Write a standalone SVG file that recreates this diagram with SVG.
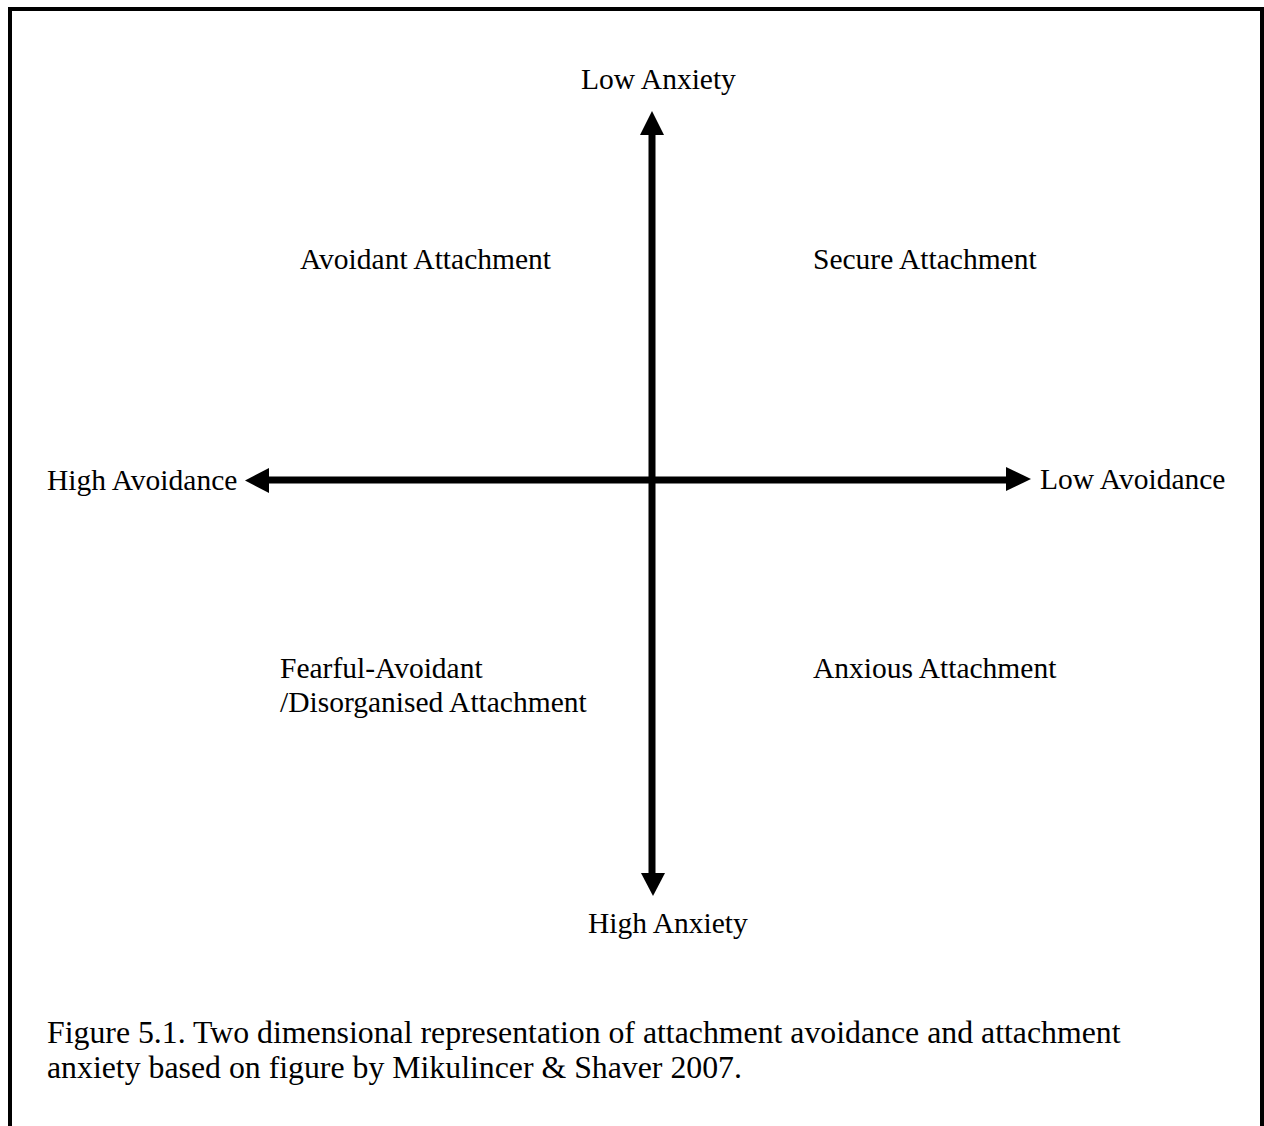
<svg xmlns="http://www.w3.org/2000/svg" width="1264" height="1126" viewBox="0 0 1264 1126">
<style>
text{font-family:"Liberation Serif","Times New Roman",serif;font-size:29.5px;fill:#000}
text.cap{font-size:31.8px}
.ax{stroke:#000;stroke-width:7;fill:none}
.hd{fill:#000}
</style>
<rect x="0" y="0" width="1264" height="1126" fill="#fff"/>
<path d="M10,1126 V9 H1262 V1126" fill="none" stroke="#000" stroke-width="4"/>
<g id="connectors">
<line class="ax" x1="652" y1="134" x2="652" y2="874"/>
<line class="ax" x1="268" y1="480" x2="1007" y2="480"/>
<polygon class="hd" points="652,111 640,135 664,135"/>
<polygon class="hd" points="653,896 641,873 665,873"/>
<polygon class="hd" points="245,480.5 269,468 269,493"/>
<polygon class="hd" points="1031,479 1006,467 1006,491"/>
</g>
<g id="low-anxiety"><text x="581" y="89">Low Anxiety</text></g>
<g id="high-anxiety"><text x="588" y="933">High Anxiety</text></g>
<g id="high-avoidance"><text x="47" y="490">High Avoidance</text></g>
<g id="low-avoidance"><text x="1040" y="489">Low Avoidance</text></g>
<g id="avoidant"><text x="300" y="269">Avoidant Attachment</text></g>
<g id="secure"><text x="813" y="269">Secure Attachment</text></g>
<g id="fearful"><text x="280" y="678">Fearful-Avoidant</text><text x="280" y="712">/Disorganised Attachment</text></g>
<g id="anxious"><text x="813" y="678">Anxious Attachment</text></g>
<g id="caption"><text class="cap" x="47" y="1043">Figure 5.1. Two dimensional representation of attachment avoidance and attachment</text><text class="cap" x="47" y="1078">anxiety based on figure by Mikulincer &amp; Shaver 2007.</text></g>
</svg>
